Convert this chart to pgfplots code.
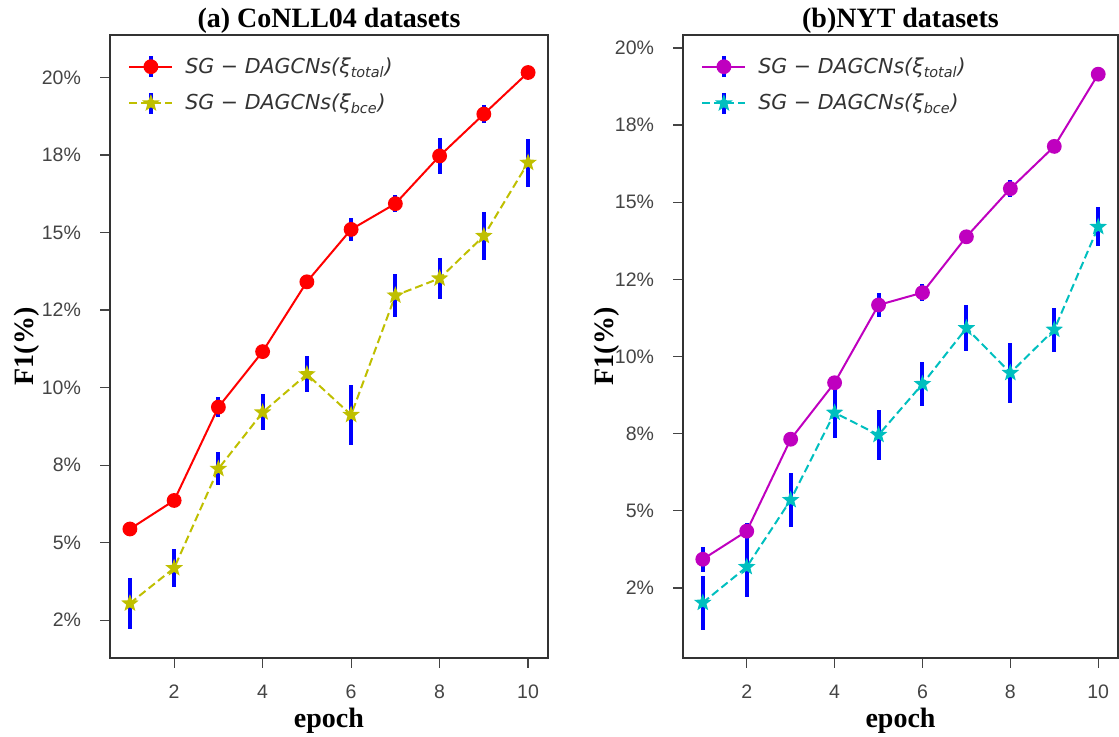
\documentclass[border=0pt]{standalone}
\usepackage{fontspec}
\setmainfont{Liberation Serif}
\newfontfamily\ticksf{Liberation Sans}
\newfontfamily\legf{DejaVu Sans}
\usepackage{pgfplots}
\usepackage{pgfplotstable}
\pgfplotsset{compat=1.18}
\usetikzlibrary{plotmarks}

\definecolor{mred}{rgb}{1,0,0}
\definecolor{myel}{rgb}{0.75,0.75,0}
\definecolor{mmag}{rgb}{0.75,0,0.75}
\definecolor{mcyan}{rgb}{0,0.75,0.75}
\definecolor{spine}{HTML}{333333}
\definecolor{ticktxt}{HTML}{444444}

% filled five-pointed star, like matplotlib's '*'
\pgfdeclareplotmark{fstar}{%
  \pgfpathmoveto{\pgfpointpolar{90}{\pgfplotmarksize}}%
  \pgfpathlineto{\pgfpointpolar{126}{0.42\pgfplotmarksize}}%
  \pgfpathlineto{\pgfpointpolar{162}{\pgfplotmarksize}}%
  \pgfpathlineto{\pgfpointpolar{198}{0.42\pgfplotmarksize}}%
  \pgfpathlineto{\pgfpointpolar{234}{\pgfplotmarksize}}%
  \pgfpathlineto{\pgfpointpolar{270}{0.42\pgfplotmarksize}}%
  \pgfpathlineto{\pgfpointpolar{306}{\pgfplotmarksize}}%
  \pgfpathlineto{\pgfpointpolar{342}{0.42\pgfplotmarksize}}%
  \pgfpathlineto{\pgfpointpolar{18}{\pgfplotmarksize}}%
  \pgfpathlineto{\pgfpointpolar{54}{0.42\pgfplotmarksize}}%
  \pgfpathclose\pgfusepathqfillstroke}

% CoNLL04: total loss (a, ae) and bce loss (b, be)
\pgfplotstableread{
x  a      ae    b      be
1  5.44   0.24  3.04   0.83
2  6.36   0.12  4.18   0.62
3  9.37   0.33  7.38   0.53
4  11.16  0.12  9.20   0.58
5  13.41  0.12  10.43  0.58
6  15.10  0.36  9.12   0.97
7  15.93  0.27  12.97  0.70
8  17.47  0.57  13.52  0.66
9  18.82  0.28  14.89  0.77
10 20.16  0.10  17.25  0.77
}\conll

% NYT
\pgfplotstableread{
x  a      ae    b      be
1  3.43   0.40  2.02   0.88
2  4.34   0.26  3.18   0.97
3  7.32   0.12  5.35   0.88
4  9.15   0.12  8.18   0.83
5  11.67  0.38  7.46   0.80
6  12.07  0.27  9.11   0.71
7  13.88  0.12  10.92  0.75
8  15.44  0.27  9.47   0.97
9  16.81  0.10  10.87  0.71
10 19.15  0.10  14.20  0.63
}\nyt

\pgfplotsset{
  panel/.style={
    scale only axis, height=311.5pt,
    xmin=0.55, xmax=10.45,
    xtick={2,4,6,8,10}, xticklabels={2,4,6,8,10},
    ytick={2.5,5,7.5,10,12.5,15,17.5,20},
    yticklabels={2\%,5\%,8\%,10\%,12\%,15\%,18\%,20\%},
    tick align=outside, tick pos=left,
    major tick length=5pt,
    axis line style={spine, line width=0.9pt},
    tick style={ticktxt, line width=0.6pt},
    tick label style={font=\ticksf\fontsize{9.75}{11}\selectfont, text=ticktxt},
    xticklabel style={yshift=-5pt},
    yticklabel style={xshift=-6pt},
    title style={font=\bfseries\fontsize{14}{16}\selectfont,
      at={(axis description cs:0.5,1)}, anchor=base, yshift=-2.5pt},
    xlabel style={font=\bfseries\fontsize{14}{16}\selectfont,
      at={(axis description cs:0.5,0)}, anchor=base, yshift=-35pt},
    ylabel style={font=\bfseries\fontsize{14}{16}\selectfont, anchor=center},
    legend style={draw=none, fill=none, at={(axis description cs:0,1)},
      anchor=north west, xshift=6pt, yshift=-7pt,
      font=\legf\itshape\fontsize{10.3}{12}\selectfont, text=spine,
      row sep=5pt, /tikz/every odd column/.append style={column sep=4pt}},
    legend cell align=left,
  },
  ebar/.style={/pgfplots/error bars/y dir=both, /pgfplots/error bars/y explicit,
    /pgfplots/error bars/error mark=none,
    /pgfplots/error bars/error bar style={blue, line width=2pt, solid}},
  legerr/.style={legend image code/.code={
    \draw[solid, blue, line width=2pt] (10.75pt,-5.25pt) -- (10.75pt,5.25pt);
    \draw[mark repeat=2, mark phase=2, ##1] plot coordinates {(0pt,0pt) (10.75pt,0pt) (21.5pt,0pt)};}},
}

\begin{document}
\begin{tikzpicture}
\path[use as bounding box] (0,0) rectangle (559.5pt,368.5pt);

\begin{axis}[panel, at={(55pt,39.5pt)}, anchor=south west, width=219pt,
  ymin=1.28, ymax=21.37,
  title={(a) CoNLL04 datasets}, xlabel={epoch}, ylabel={F1(\%)},
  ylabel style={at={(axis description cs:-0.19,0.5)}}]
\addplot[mred, line width=1pt, mark=*, mark size=3.2pt, ebar, legerr]
  table[x=x, y=a, y error=ae] {\conll};
\addlegendentry{SG − DAGCNs(ξ\textsubscript{total})}
\addplot[myel, line width=1pt, dash pattern=on 4pt off 2pt, mark=fstar, mark size=3.2pt,
  mark options={solid, fill=myel}, ebar, legerr]
  table[x=x, y=b, y error=be] {\conll};
\addlegendentry{SG − DAGCNs(ξ\textsubscript{bce})}
\end{axis}

\begin{axis}[panel, at={(341.5pt,39.5pt)}, anchor=south west, width=217.5pt,
  ymin=0.23, ymax=20.42,
  title={(b)NYT datasets}, xlabel={epoch}, ylabel={F1(\%)},
  ylabel style={at={(axis description cs:-0.175,0.5)}}]
\addplot[mmag, line width=1pt, mark=*, mark size=3.2pt, ebar, legerr]
  table[x=x, y=a, y error=ae] {\nyt};
\addlegendentry{SG − DAGCNs(ξ\textsubscript{total})}
\addplot[mcyan, line width=1pt, dash pattern=on 4pt off 2pt, mark=fstar, mark size=3.2pt,
  mark options={solid, fill=mcyan}, ebar, legerr]
  table[x=x, y=b, y error=be] {\nyt};
\addlegendentry{SG − DAGCNs(ξ\textsubscript{bce})}
\end{axis}
\end{tikzpicture}
\end{document}
